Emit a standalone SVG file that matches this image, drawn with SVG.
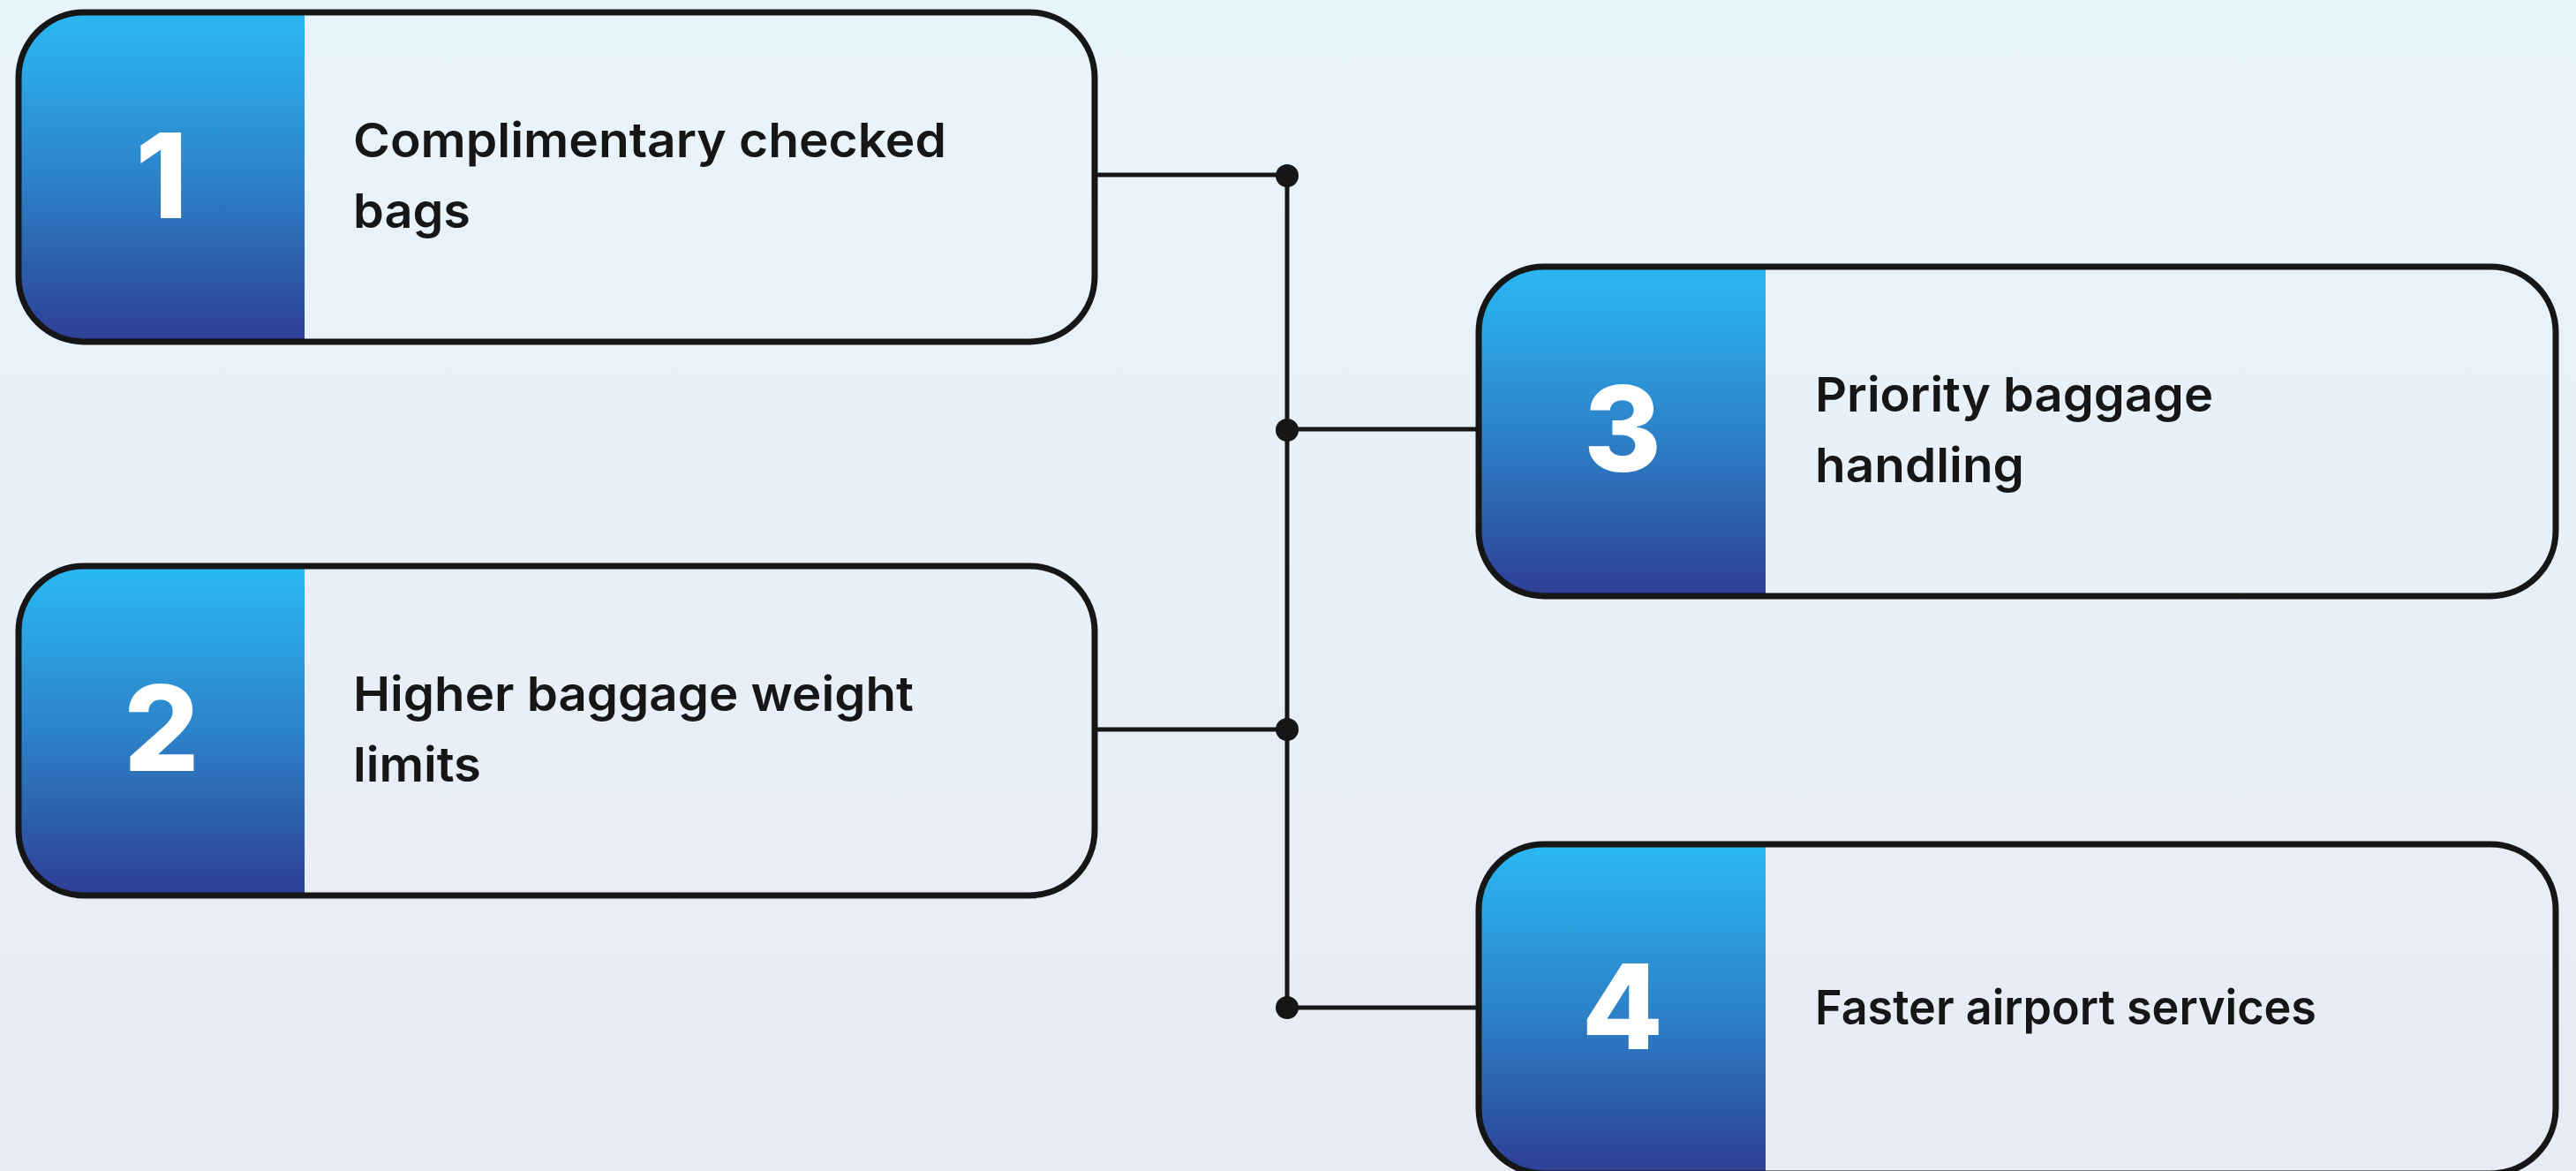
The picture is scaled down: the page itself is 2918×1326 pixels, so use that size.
<svg xmlns="http://www.w3.org/2000/svg" width="2918" height="1326" viewBox="0 0 2918 1326">
  <defs>
    <linearGradient id="bg" x1="0" y1="0" x2="0" y2="1">
      <stop offset="0" stop-color="#e8f4fb"/>
      <stop offset="1" stop-color="#e8ebf5"/>
    </linearGradient>
    <linearGradient id="panel" x1="0" y1="0" x2="0" y2="1">
      <stop offset="0" stop-color="#29b9f3"/>
      <stop offset="0.5" stop-color="#2d83c9"/>
      <stop offset="1" stop-color="#2d3e95"/>
    </linearGradient>
    <clipPath id="c1"><rect x="21" y="14" width="1219" height="373" rx="74" ry="74"/></clipPath>
    <clipPath id="c2"><rect x="21" y="641" width="1219" height="373" rx="74" ry="74"/></clipPath>
    <clipPath id="c3"><rect x="1675" y="302" width="1220" height="373" rx="74" ry="74"/></clipPath>
    <clipPath id="c4"><rect x="1675" y="956" width="1220" height="373" rx="74" ry="74"/></clipPath>
  </defs>
  <style>
    .frame { fill: none; stroke: #161616; stroke-width: 7; }
    .panel { fill: url(#panel); }
    .num { font-family: Inter, "Liberation Sans", sans-serif; font-weight: 800; font-size: 134px; fill: #ffffff; text-anchor: middle; }
    .lbl { font-family: Inter, "Liberation Sans", sans-serif; font-weight: 600; font-size: 54px; fill: #161616; }
    .conn { fill: none; stroke: #161616; stroke-width: 5; }
    .dot { fill: #161616; }
  </style>
  <rect x="0" y="0" width="2918" height="1326" fill="url(#bg)"/>

  <g id="connectors">
    <line class="conn" x1="1240" y1="198" x2="1458" y2="198"/>
    <line class="conn" x1="1458" y1="198" x2="1458" y2="1141"/>
    <line class="conn" x1="1458" y1="486" x2="1675" y2="486"/>
    <line class="conn" x1="1240" y1="826" x2="1458" y2="826"/>
    <line class="conn" x1="1458" y1="1141" x2="1675" y2="1141"/>
    <circle class="dot" cx="1458" cy="199" r="13"/>
    <circle class="dot" cx="1458" cy="487" r="13"/>
    <circle class="dot" cx="1458" cy="826" r="13"/>
    <circle class="dot" cx="1458" cy="1141" r="13"/>
  </g>

  <g id="node1">
    <rect class="panel" x="21" y="14" width="324" height="373" clip-path="url(#c1)"/>
    <rect class="frame" x="21" y="14" width="1219" height="373" rx="74" ry="74"/>
    <text class="num" x="183" y="247">1</text>
    <text class="lbl" x="400" y="178" textLength="672" lengthAdjust="spacingAndGlyphs">Complimentary checked</text>
    <text class="lbl" x="400" y="258" textLength="133" lengthAdjust="spacingAndGlyphs">bags</text>
  </g>

  <g id="node2">
    <rect class="panel" x="21" y="641" width="324" height="373" clip-path="url(#c2)"/>
    <rect class="frame" x="21" y="641" width="1219" height="373" rx="74" ry="74"/>
    <text class="num" x="183" y="873">2</text>
    <text class="lbl" x="400" y="805" textLength="635" lengthAdjust="spacingAndGlyphs">Higher baggage weight</text>
    <text class="lbl" x="400" y="885" textLength="145" lengthAdjust="spacingAndGlyphs">limits</text>
  </g>

  <g id="node3">
    <rect class="panel" x="1675" y="302" width="325" height="373" clip-path="url(#c3)"/>
    <rect class="frame" x="1675" y="302" width="1220" height="373" rx="74" ry="74"/>
    <text class="num" x="1838" y="534">3</text>
    <text class="lbl" x="2056" y="466" textLength="451" lengthAdjust="spacingAndGlyphs">Priority baggage</text>
    <text class="lbl" x="2056" y="546" textLength="237" lengthAdjust="spacingAndGlyphs">handling</text>
  </g>

  <g id="node4">
    <rect class="panel" x="1675" y="956" width="325" height="373" clip-path="url(#c4)"/>
    <rect class="frame" x="1675" y="956" width="1220" height="373" rx="74" ry="74"/>
    <text class="num" x="1838" y="1188">4</text>
    <text class="lbl" x="2056" y="1160" textLength="568" lengthAdjust="spacingAndGlyphs">Faster airport services</text>
  </g>
</svg>
